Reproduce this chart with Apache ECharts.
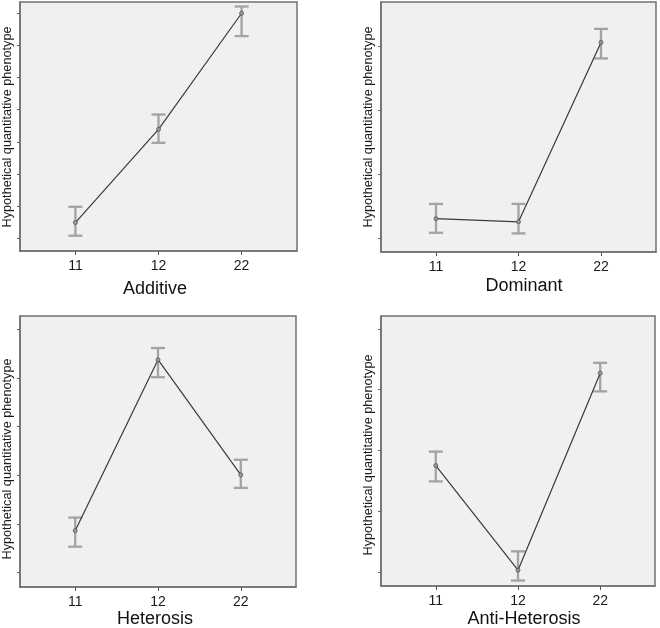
<!DOCTYPE html>
<html>
<head>
<meta charset="utf-8">
<script src="https://cdn.jsdelivr.net/npm/echarts@6/dist/echarts.min.js"></script>
<style>
html,body{margin:0;padding:0;background:#fff;}
#chart{width:660px;height:628px;}
</style>
</head>
<body>
<div id="chart"></div>
<script>
// Genotype categories (shared by every panel)
const categories = ['11', '12', '22'];

// Panel titles
const panelTitles = ['Additive', 'Dominant', 'Heterosis', 'Anti-Heterosis'];
const yAxisTitle = 'Hypothetical quantitative phenotype';

// Means (in units of the unlabeled y ticks)
const additiveMean = [1.49, 4.39, 8.00];
const dominantMean = [1.31, 1.26, 4.06];
const heterosisMean = [1.86, 5.38, 3.01];
const antiHeterosisMean = [2.75, 1.03, 4.27];

// Error bar upper ends
const additiveUpper = [1.98, 4.85, 8.21];
const dominantUpper = [1.54, 1.54, 4.27];
const heterosisUpper = [2.13, 5.62, 3.32];
const antiHeterosisUpper = [2.98, 1.34, 4.44];

// Error bar lower ends
const additiveLower = [1.08, 3.97, 7.29];
const dominantLower = [1.09, 1.08, 3.81];
const heterosisLower = [1.53, 5.02, 2.74];
const antiHeterosisLower = [2.49, 0.86, 3.97];

// Unlabeled y tick positions per panel
const additiveTicks = [1, 2, 3, 4, 5, 6, 7, 8];
const dominantTicks = [1, 2, 3, 4];
const heterosisTicks = [1, 2, 3, 4, 5, 6];
const antiHeterosisTicks = [1, 2, 3, 4, 5];

// y axis ranges per panel
const yMins = [0.605, 0.79, 0.70, 0.77];
const yMaxs = [8.35, 4.69, 6.28, 5.21];

const means = [additiveMean, dominantMean, heterosisMean, antiHeterosisMean];
const uppers = [additiveUpper, dominantUpper, heterosisUpper, antiHeterosisUpper];
const lowers = [additiveLower, dominantLower, heterosisLower, antiHeterosisLower];
const ticks = [additiveTicks, dominantTicks, heterosisTicks, antiHeterosisTicks];

// layout
const grids = [
  {left: 20, top: 2, width: 277, height: 249},
  {left: 381, top: 2, width: 275, height: 250},
  {left: 20, top: 316, width: 276, height: 271},
  {left: 381, top: 316, width: 274, height: 270}
];
const titlePos = [
  {left: 155, top: 280},
  {left: 524, top: 277},
  {left: 155, top: 610},
  {left: 524, top: 610.5}
];
const yNamePos = [[7.5, 127], [368, 127], [7.5, 459], [368, 455]];

const FONT = '"Liberation Sans", Arial, Helvetica, sans-serif';
const frameColor = '#727272';
const xPos = i => i * 3 + 2; // category index -> position on a 0..10 axis
const catTicks = categories.map((c, i) => xPos(i));

const option = {
  animation: false,
  backgroundColor: '#ffffff',
  textStyle: {fontFamily: FONT},
  title: panelTitles.map((t, k) => ({
    text: t,
    left: titlePos[k].left,
    top: titlePos[k].top,
    textAlign: 'center',
    padding: 0,
    textStyle: {fontFamily: FONT, fontSize: 18, fontWeight: 'normal', color: '#111'}
  })),
  grid: grids.map(g => Object.assign({
    show: true,
    backgroundColor: '#f0f0f0',
    borderColor: frameColor,
    borderWidth: 1.5,
    containLabel: false
  }, g)),
  xAxis: grids.map((g, k) => ({
    gridIndex: k,
    type: 'value',
    min: 0,
    max: 10,
    splitLine: {show: false},
    axisLine: {show: true, onZero: false, lineStyle: {color: frameColor, width: 1.5}},
    axisTick: {show: true, customValues: catTicks, length: 4, lineStyle: {color: '#555', width: 1}},
    axisLabel: {
      show: true,
      customValues: catTicks,
      formatter: v => categories[Math.round((v - 2) / 3)],
      fontFamily: FONT, fontSize: 14, color: '#1a1a1a', margin: 8
    }
  })),
  yAxis: grids.map((g, k) => ({
    gridIndex: k,
    type: 'value',
    min: yMins[k],
    max: yMaxs[k],
    splitLine: {show: false},
    axisLine: {show: true, onZero: false, lineStyle: {color: frameColor, width: 1.5}},
    axisTick: {show: true, customValues: ticks[k], length: 3, lineStyle: {color: '#666', width: 1}},
    axisLabel: {show: false, customValues: ticks[k]}
  })),
  graphic: yNamePos.map(p => ({
    type: 'text',
    x: p[0],
    y: p[1],
    rotation: Math.PI / 2,
    style: {
      text: yAxisTitle,
      fontFamily: FONT,
      fontSize: 12.7,
      fill: '#1a1a1a',
      align: 'center',
      verticalAlign: 'middle'
    }
  })),
  series: []
};

for (let k = 0; k < 4; k++) {
  const errData = categories.map((c, i) => [xPos(i), lowers[k][i], uppers[k][i]]);
  option.series.push({
    type: 'custom',
    xAxisIndex: k,
    yAxisIndex: k,
    z: 2,
    data: errData,
    encode: {x: 0, y: [1, 2]},
    renderItem: function (params, api) {
      const x = api.value(0);
      const lo = api.coord([x, api.value(1)]);
      const hi = api.coord([x, api.value(2)]);
      const hw = 7;
      const st = {stroke: '#a3a3a3', lineWidth: 2.3, fill: null};
      return {
        type: 'group',
        children: [
          {type: 'line', shape: {x1: lo[0], y1: lo[1], x2: hi[0], y2: hi[1]}, style: st},
          {type: 'line', shape: {x1: lo[0] - hw, y1: lo[1], x2: lo[0] + hw, y2: lo[1]}, style: st},
          {type: 'line', shape: {x1: hi[0] - hw, y1: hi[1], x2: hi[0] + hw, y2: hi[1]}, style: st}
        ]
      };
    }
  });
  option.series.push({
    type: 'line',
    xAxisIndex: k,
    yAxisIndex: k,
    z: 3,
    data: categories.map((c, i) => [xPos(i), means[k][i]]),
    lineStyle: {color: '#3a3a3a', width: 1.2},
    symbol: 'circle',
    symbolSize: 4,
    itemStyle: {color: '#9a9a9a', borderColor: '#555', borderWidth: 0.8}
  });
}

const chart = echarts.init(document.getElementById('chart'), null, {renderer: 'canvas'});
chart.setOption(option);
</script>
</body>
</html>
